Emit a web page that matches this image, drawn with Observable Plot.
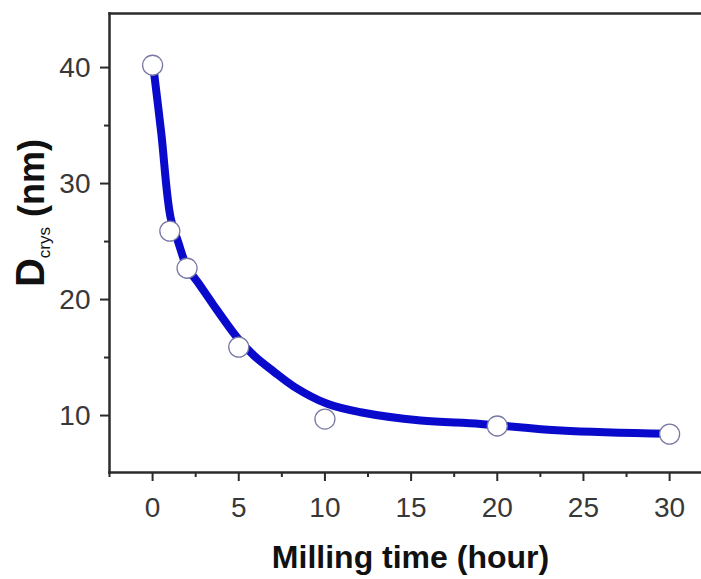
<!DOCTYPE html>
<html>
<head>
<meta charset="utf-8">
<script src="https://cdn.jsdelivr.net/npm/d3@7"></script>
<script src="https://cdn.jsdelivr.net/npm/@observablehq/plot@0.6"></script>
<style>
  html, body { margin: 0; padding: 0; background: #fff; }
  #chart svg { display: block; }
</style>
</head>
<body>
<div id="chart"></div>
<script>
// Measured points (markers)
const hours = [0, 1, 2, 5, 10, 20, 30];
const crystSize = [40.2, 25.9, 22.7, 15.9, 9.7, 9.1, 8.4];

// Fitted curve
const curveHours = [0, 0.5, 1.04, 1.5, 2.0, 2.69, 3.5, 4.92, 5.86, 7.02, 8.2, 10.14, 12.07, 15.56, 19.04, 23.7, 30];
const curveValues = [40.6, 34.4, 27.1, 24.9, 22.8, 21.35, 19.6, 16.7, 15.2, 13.8, 12.5, 11.01, 10.28, 9.57, 9.28, 8.71, 8.42];

// Axis ticks
const xTicks = [0, 5, 10, 15, 20, 25, 30];
const xMinorTicks = [-2.5, 2.5, 7.5, 12.5, 17.5, 22.5, 27.5];
const yTicks = [10, 20, 30, 40];
const yMinorTicks = [15, 25, 35];

const xTitle = "Milling time (hour)";
const yTitleMain = "D";
const yTitleSub = "crys";
const yTitleUnit = " (nm)";

const points = hours.map((h, i) => ({h, v: crystSize[i]}));
const curve = curveHours.map((h, i) => ({h, v: curveValues[i]}));

const font = "'Liberation Sans', Arial, Helvetica, sans-serif";

const svg = Plot.plot({
  width: 701,
  height: 579,
  marginLeft: 109,
  marginRight: 0,
  marginTop: 13,
  marginBottom: 107,
  style: {fontFamily: font, background: "#fff", color: "#2b2b2b"},
  x: {domain: [-2.5, 31.85]},
  y: {domain: [5.09, 44.66]},
  marks: [
    Plot.axisX({ticks: xTicks, tickSize: 9, tickPadding: 16, fontSize: 28, label: null, stroke: "#2b2b2b", strokeWidth: 2, fill: "#383838"}),
    Plot.axisX({ticks: xMinorTicks, tickSize: 5, tickFormat: () => "", label: null, stroke: "#2b2b2b", strokeWidth: 2}),
    Plot.axisY({ticks: yTicks, tickSize: 9, tickPadding: 10, fontSize: 28, label: null, stroke: "#2b2b2b", strokeWidth: 2, fill: "#383838"}),
    Plot.axisY({ticks: yMinorTicks, tickSize: 5, tickFormat: () => "", label: null, stroke: "#2b2b2b", strokeWidth: 2}),
    Plot.frame({anchor: "left", stroke: "#2b2b2b", strokeWidth: 2.5}),
    Plot.frame({anchor: "bottom", stroke: "#2b2b2b", strokeWidth: 2.5}),
    Plot.frame({anchor: "top", stroke: "#2b2b2b", strokeWidth: 2.5}),
    Plot.line(curve, {x: "h", y: "v", curve: "catmull-rom", stroke: "#0a0acc", strokeWidth: 8, strokeLinecap: "round", strokeLinejoin: "round"}),
    Plot.dot(points, {x: "h", y: "v", r: 10, fill: "#fff", stroke: "#7878a4", strokeWidth: 1.3}),
    Plot.text([xTitle], {frameAnchor: "bottom", dx: 5, dy: 85, lineAnchor: "middle", fontSize: 32, fontWeight: "bold", fill: "#111"})
  ]
});

const s = d3.select(svg);
const t = s.append("text")
  .attr("transform", "translate(44,213) rotate(-90)")
  .attr("text-anchor", "middle")
  .attr("font-family", font)
  .attr("fill", "#111");
t.append("tspan").attr("font-size", 40).attr("font-weight", "bold").text(yTitleMain);
t.append("tspan").attr("font-size", 17).attr("dy", 6).text(yTitleSub);
t.append("tspan").attr("font-size", 36).attr("font-weight", "bold").attr("dy", -6).text(yTitleUnit);

document.getElementById("chart").appendChild(svg);
</script>
</body>
</html>
